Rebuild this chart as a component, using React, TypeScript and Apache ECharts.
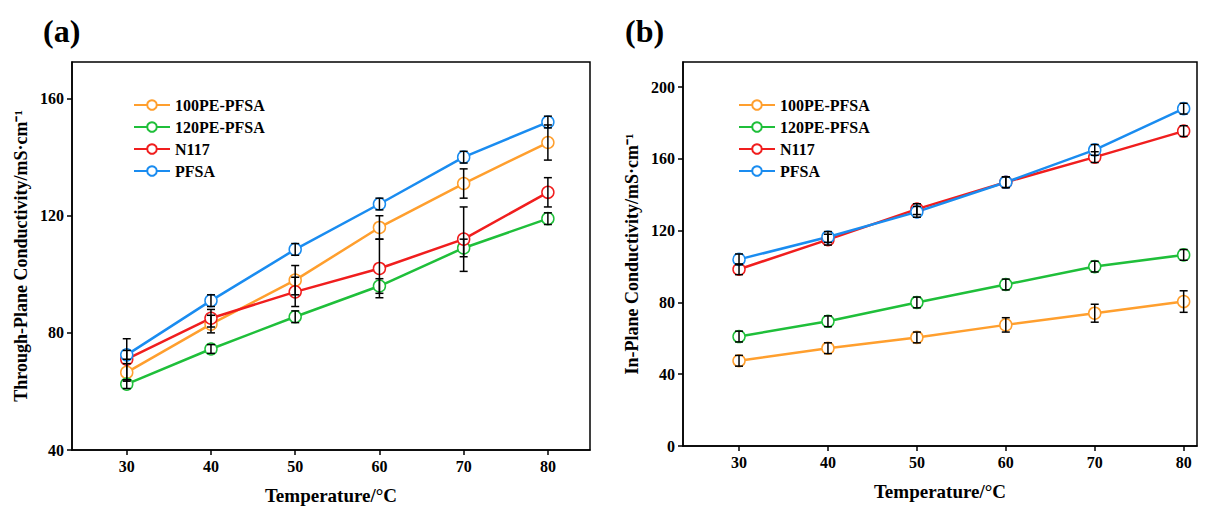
import { useEffect, useRef } from 'react'
import * as echarts from 'echarts'

const temps = [30, 40, 50, 60, 70, 80]
const names = ['100PE-PFSA', '120PE-PFSA', 'N117', 'PFSA']
const colors = ['#ff9f2e', '#1fbf3a', '#f01e1e', '#1a8cf0']

// panel (a) through-plane
const thrPE100 = [66.5, 83, 98, 116, 131, 145]
const thrPE120 = [62.5, 74.5, 85.5, 96, 109, 119]
const thrN117 = [71, 85, 94, 102, 112, 128]
const thrPFSA = [72.5, 91, 108.5, 124, 140, 152]
const thrErr = [
  [3, 3, 5, 4, 5, 6],
  [1.5, 1.5, 2, 2.5, 3, 2],
  [7, 3, 5, 10, 11, 5],
  [1.5, 2, 2, 2, 2, 2],
]

// panel (b) in-plane
const inPE100 = [47.5, 54.5, 60.5, 67.5, 74, 80.5]
const inPE120 = [61, 69.5, 80, 90, 100, 106.5]
const inN117 = [98.5, 115, 132, 147, 161, 175.5]
const inPFSA = [104, 116.5, 130.5, 147, 165, 188]
const inErr = [
  [3, 3, 3, 4, 5, 6],
  [3, 3, 3, 3, 3, 3],
  [3, 3, 3, 3, 3, 3],
  [3, 3, 3, 3, 3, 3],
]

const font = 'Liberation Serif'

export default function App() {
  const ref = useRef<HTMLDivElement | null>(null)

  useEffect(() => {
    if (!ref.current) return
    const chart = echarts.init(ref.current, null, { renderer: 'svg' })

    const lineSeries = (vals: number[][], idx: number) =>
      vals.map((v, i) => ({
        type: 'line',
        name: names[i],
        xAxisIndex: idx,
        yAxisIndex: idx,
        data: temps.map((t, j) => [t, v[j]]),
        symbol: 'circle',
        symbolSize: 12,
        z: 3,
        lineStyle: { color: colors[i], width: 2.5 },
        itemStyle: { color: '#fff', borderColor: colors[i], borderWidth: 1.5 },
      }))

    const errSeries = (vals: number[][], errs: number[][], idx: number) =>
      vals.map((v, i) => ({
        type: 'custom',
        xAxisIndex: idx,
        yAxisIndex: idx,
        z: 4,
        silent: true,
        data: temps.map((t, j) => [t, v[j] - errs[i][j], v[j] + errs[i][j]]),
        renderItem: (_p: any, api: any) => {
          const lo = api.coord([api.value(0), api.value(1)])
          const hi = api.coord([api.value(0), api.value(2)])
          const st = { stroke: '#000', lineWidth: 1.5 }
          return {
            type: 'group',
            children: [
              { type: 'line', shape: { x1: lo[0], y1: lo[1], x2: hi[0], y2: hi[1] }, style: st },
              { type: 'line', shape: { x1: lo[0] - 4, y1: lo[1], x2: lo[0] + 4, y2: lo[1] }, style: st },
              { type: 'line', shape: { x1: hi[0] - 4, y1: hi[1], x2: hi[0] + 4, y2: hi[1] }, style: st },
            ],
          }
        },
      }))

    const xAxis = (gi: number, min: number, max: number) => ({
      type: 'value',
      gridIndex: gi,
      min,
      max,
      name: 'Temperature/°C',
      nameLocation: 'middle',
      nameGap: 36,
      nameTextStyle: { fontFamily: font, fontWeight: 'bold', fontSize: 19, color: '#000' },
      axisLine: { lineStyle: { color: '#000', width: 1.5 } },
      axisTick: { customValues: temps, length: 5, lineStyle: { color: '#000', width: 1.5 } },
      axisLabel: { customValues: temps, fontFamily: font, fontWeight: 'bold', fontSize: 16, color: '#000' },
      splitLine: { show: false },
    })

    const yAxis = (gi: number, min: number, max: number, ticks: number[], name: string) => ({
      type: 'value',
      gridIndex: gi,
      min,
      max,
      name,
      nameLocation: 'middle',
      nameGap: 42,
      nameTextStyle: { fontFamily: font, fontWeight: 'bold', fontSize: 18, color: '#000' },
      axisLine: { show: true, lineStyle: { color: '#000', width: 1.5 } },
      axisTick: { customValues: ticks, length: 5, lineStyle: { color: '#000', width: 1.5 } },
      axisLabel: { customValues: ticks, fontFamily: font, fontWeight: 'bold', fontSize: 16, color: '#000' },
      splitLine: { show: false },
    })

    const legend = (left: number) => ({
      left,
      top: 84,
      orient: 'vertical',
      data: names,
      itemWidth: 36,
      itemHeight: 12,
      itemGap: 6,
      textStyle: { fontFamily: font, fontWeight: 'bold', fontSize: 16, color: '#000' },
    })

    chart.setOption({
      animation: false,
      title: [
        { text: '(a)', left: 30, top: 2, textStyle: { fontFamily: font, fontWeight: 'bold', fontSize: 32, color: '#000' } },
        { text: '(b)', left: 612, top: 2, textStyle: { fontFamily: font, fontWeight: 'bold', fontSize: 32, color: '#000' } },
      ],
      legend: [legend(120), legend(725)],
      grid: [
        { left: 64, top: 54, width: 518, height: 388, show: true, borderColor: '#000', borderWidth: 1.5 },
        { left: 675, top: 54, width: 514, height: 384, show: true, borderColor: '#000', borderWidth: 1.5 },
      ],
      xAxis: [xAxis(0, 23.5, 85), xAxis(1, 23.7, 81.5)],
      yAxis: [
        yAxis(0, 40, 172.5, [40, 80, 120, 160], 'Through-Plane Conductivity/mS·cm⁻¹'),
        yAxis(1, 0, 214, [0, 40, 80, 120, 160, 200], 'In-Plane Conductivity/mS·cm⁻¹'),
      ],
      series: [
        ...lineSeries([thrPE100, thrPE120, thrN117, thrPFSA], 0),
        ...lineSeries([inPE100, inPE120, inN117, inPFSA], 1),
        ...errSeries([thrPE100, thrPE120, thrN117, thrPFSA], thrErr, 0),
        ...errSeries([inPE100, inPE120, inN117, inPFSA], inErr, 1),
      ],
    })

    return () => chart.dispose()
  }, [])

  return <div ref={ref} style={{ width: 1193, height: 502, background: '#fff' }} />
}
